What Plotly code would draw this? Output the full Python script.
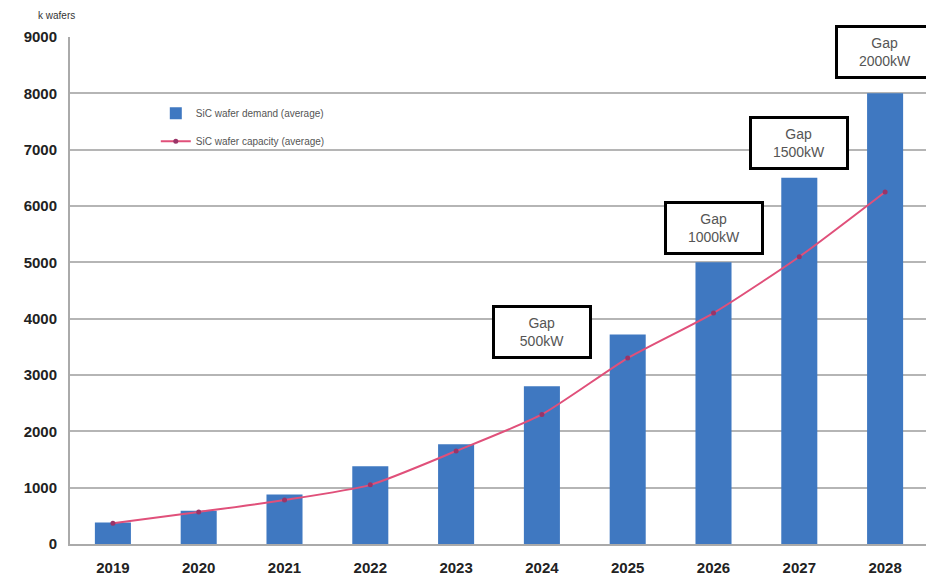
import plotly.graph_objects as go

years = ["2019", "2020", "2021", "2022", "2023", "2024", "2025", "2026", "2027", "2028"]
demand = [380, 590, 880, 1380, 1770, 2800, 3720, 5000, 6500, 8000]
capacity = [370, 570, 780, 1050, 1650, 2300, 3300, 4100, 5100, 6250]
gap_years = [5, 7, 8, 9]
gap_text = ["Gap<br>500kW", "Gap<br>1000kW", "Gap<br>1500kW", "Gap<br>2000kW"]
gap_y = [3760, 5610, 7120, 8740]
y_ticks = [0, 1000, 2000, 3000, 4000, 5000, 6000, 7000, 8000, 9000]

fig = go.Figure()
fig.add_trace(go.Bar(
    x=years, y=demand, name="SiC wafer demand (average)", legendgroup="a",
    marker=dict(color="#3f78c1", line=dict(width=0)), width=0.42,
))
fig.add_trace(go.Scatter(
    x=years, y=capacity, name="SiC wafer capacity (average)", legendgroup="b",
    mode="lines+markers", line=dict(color="#e0507a", width=2, shape="spline", smoothing=0.6),
    marker=dict(color="#9a3468", size=5),
))

for gx, gt, gy in zip(gap_years, gap_text, gap_y):
    fig.add_annotation(
        x=gx, y=gy, xref="x", yref="y", text=gt, showarrow=False,
        font=dict(family="Liberation Sans", size=14, color="#555555"),
        bgcolor="white", bordercolor="black", borderwidth=3, borderpad=4,
        width=86, height=40,
    )

fig.add_annotation(
    xref="paper", yref="paper", x=-0.04, y=1.043, xanchor="left", yanchor="middle",
    text="k wafers", showarrow=False,
    font=dict(family="Liberation Sans", size=10, color="#333333"),
)

fig.update_layout(
    width=934, height=581,
    margin=dict(l=62, r=14, t=29, b=45),
    plot_bgcolor="white", paper_bgcolor="white",
    legend=dict(
        x=0.1, y=0.878, xanchor="left", yanchor="top",
        font=dict(family="Liberation Sans", size=10, color="#555555"),
        bgcolor="rgba(0,0,0,0)", tracegroupgap=9, itemwidth=30,
    ),
    font=dict(family="Liberation Sans", color="#222222"),
)
fig.update_xaxes(
    type="category", range=[-0.5, 9.5],
    tickfont=dict(family="Liberation Sans", size=15, color="#222222", weight="bold"),
    showgrid=False, showline=True, linecolor="#aaaaaa", linewidth=2, ticks="",
    ticklabelstandoff=9,
)
fig.update_yaxes(
    range=[0, 9000], tickvals=y_ticks,
    tickfont=dict(family="Liberation Sans", size=15, color="#222222", weight="bold"),
    showgrid=True, gridcolor="#b5b5b5", gridwidth=2,
    showline=True, linecolor="#aaaaaa", linewidth=2, zeroline=False, ticks="",
    ticklabelstandoff=8,
)

fig.write_html("out.html")
